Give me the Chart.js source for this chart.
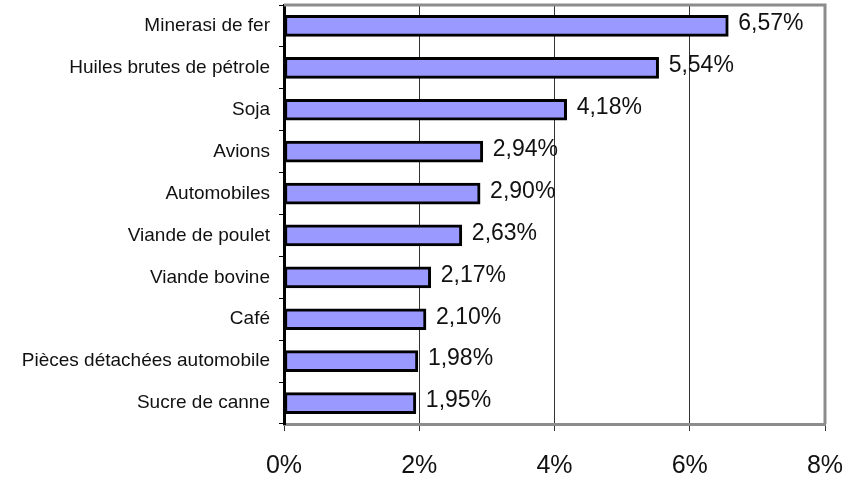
<html>
<head>
  <title>Exportations</title>
  <script src="https://cdn.jsdelivr.net/npm/chart.js"></script>
  <style>
    body { margin: 0; background: #fff; }
  </style>
</head>
<body>
  <canvas id="grafico" width="847" height="481"></canvas>

  <script>
    const produits = ['Minerasi de fer', 'Huiles brutes de pétrole', 'Soja', 'Avions', 'Automobiles',
      'Viande de poulet', 'Viande bovine', 'Café', 'Pièces détachées automobile', 'Sucre de canne'];
    const parts = [6.57, 5.54, 4.18, 2.94, 2.90, 2.63, 2.17, 2.10, 1.98, 1.95];
    const etiquettes = ['6,57%', '5,54%', '4,18%', '2,94%', '2,90%', '2,63%', '2,17%', '2,10%', '1,98%', '1,95%'];
    const graduations = [0, 2, 4, 6, 8];

    const police = '"Liberation Sans", Arial, sans-serif';

    // cadre gris en haut et à droite, plus valeurs au bout des barres
    const extras = {
      id: 'extras',
      beforeDatasetsDraw(chart) {
        const { ctx, chartArea: a } = chart;
        ctx.save();
        ctx.strokeStyle = '#8c8c8c';
        ctx.lineWidth = 3;
        ctx.beginPath();
        ctx.moveTo(a.left, a.top);
        ctx.lineTo(a.right, a.top);
        ctx.lineTo(a.right, a.bottom);
        ctx.stroke();
        ctx.restore();
      },
      afterDatasetsDraw(chart) {
        const { ctx } = chart;
        const meta = chart.getDatasetMeta(0);
        ctx.save();
        ctx.font = '23px ' + police;
        ctx.fillStyle = '#111';
        ctx.textBaseline = 'middle';
        ctx.textAlign = 'left';
        meta.data.forEach((bar, i) => {
          ctx.fillText(etiquettes[i], bar.x + 10, bar.y - 2);
        });
        ctx.restore();
      }
    };

    new Chart(document.getElementById('grafico'), {
      type: 'bar',
      data: {
        labels: produits,
        datasets: [{
          data: parts,
          backgroundColor: '#9999ff',
          borderColor: '#000',
          borderWidth: 3,
          borderSkipped: false,
          barThickness: 21
        }]
      },
      options: {
        indexAxis: 'y',
        responsive: false,
        animation: false,
        layout: { padding: { top: 5, right: 22, left: 0, bottom: 0 } },
        plugins: {
          legend: { display: false },
          tooltip: { enabled: false }
        },
        scales: {
          x: {
            min: 0,
            max: 8,
            afterBuildTicks: s => { s.ticks = graduations.map(v => ({ value: v })); },
            afterFit: s => { s.height = 57; s.paddingLeft = 0; s.paddingRight = 0; },
            border: { color: '#8c8c8c', width: 3 },
            grid: {
              color: c => (c.tick && (c.tick.value === 0 || c.tick.value === 8)) ? 'rgba(0,0,0,0)' : '#333',
              tickColor: '#333',
              lineWidth: 1,
              tickLength: 7
            },
            ticks: {
              padding: 20,
              color: '#111',
              font: { family: police, size: 25 },
              callback: v => v + '%'
            }
          },
          y: {
            afterFit: s => { s.width = 284; s.paddingTop = 0; s.paddingBottom = 0; },
            border: { color: '#000', width: 3 },
            grid: {
              drawOnChartArea: false,
              tickColor: '#000',
              tickLength: 5,
              offset: true
            },
            ticks: {
              padding: 9,
              color: '#111',
              font: { family: police, size: 19 }
            }
          }
        }
      },
      plugins: [extras]
    });
  </script>
</body>
</html>
